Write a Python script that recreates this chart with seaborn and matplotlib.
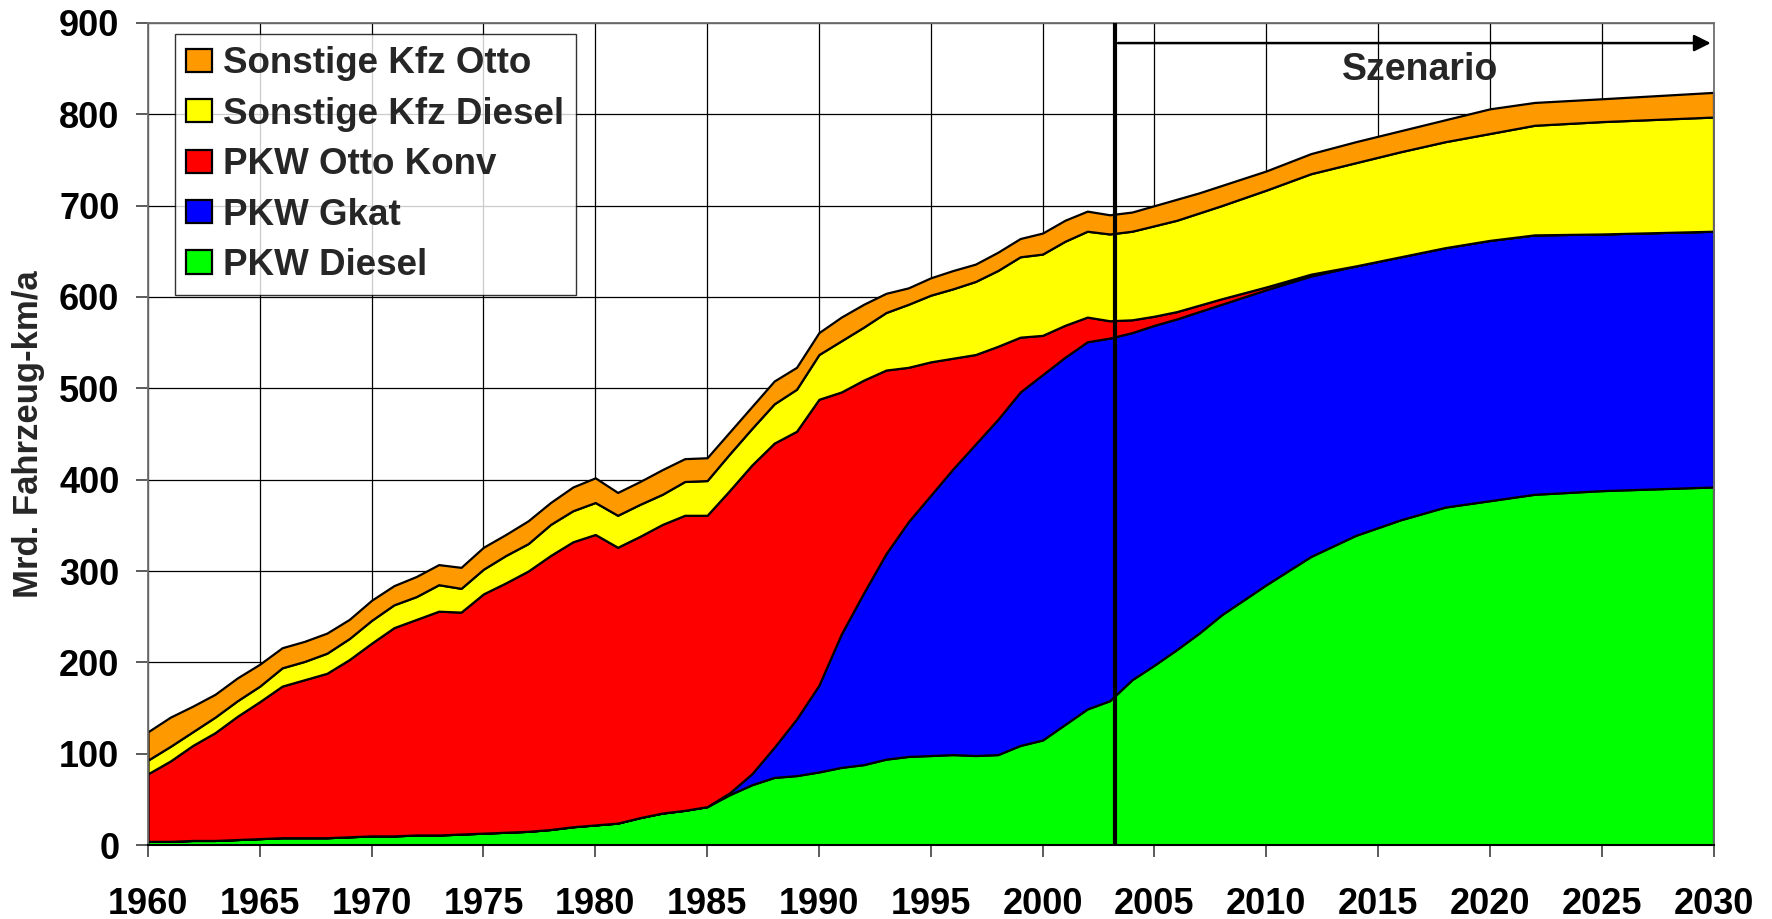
import matplotlib
matplotlib.use('Agg')
import matplotlib.pyplot as plt
import seaborn as sns

years = list(range(1960, 2008)) + [2008, 2010, 2012, 2014, 2016, 2018, 2020, 2022, 2025, 2030]

pkw_diesel = [4, 4, 5, 5, 6, 7, 8, 8, 8, 9,
              10, 10, 11, 11, 12, 13, 14, 15, 17, 20,
              22, 24, 30, 35, 38, 42, 55, 66, 74, 76,
              80, 85, 88, 94, 97, 98, 99, 98, 99, 109,
              115, 132, 149, 158, 181, 197, 214, 232,
              252, 285, 316, 339, 356, 370, 377, 384, 388, 392]

pkw_gkat = [0] * 26 + [2, 12, 33, 62,
            95, 146, 188, 225, 257, 285, 313, 341, 367, 387,
            400, 402, 402, 397, 380, 372, 362, 352,
            340, 323, 307, 295, 288, 284, 285, 284, 281, 280]

pkw_otto_konv = [74, 88, 104, 118, 135, 150, 166, 173, 180, 194,
                 211, 228, 236, 245, 243, 262, 273, 285, 300, 312,
                 318, 302, 308, 316, 323, 319, 331, 338, 333, 315,
                 313, 265, 233, 201, 169, 146, 121, 98, 80, 60,
                 43, 35, 27, 19, 14, 10, 8, 7,
                 6, 3, 2, 0, 0, 0, 0, 0, 0, 0]

sonst_diesel = [15, 16, 15, 17, 17, 17, 20, 20, 22, 23,
                25, 25, 25, 29, 26, 27, 30, 30, 34, 34,
                35, 35, 35, 33, 37, 38, 40, 40, 43, 46,
                49, 56, 58, 63, 69, 73, 76, 80, 83, 88,
                89, 92, 94, 95, 97, 99, 100, 101,
                102, 106, 110, 113, 115, 116, 117, 120, 123, 125]

sonst_otto = [31, 32, 28, 25, 25, 24, 22, 22, 22, 21,
              22, 21, 22, 22, 23, 24, 23, 25, 24, 26,
              27, 25, 25, 27, 25, 25, 24, 24, 25, 24,
              24, 26, 25, 21, 18, 19, 20, 19, 20, 20,
              23, 23, 22, 21, 21, 22, 23, 22,
              22, 21, 22, 23, 23, 24, 27, 25, 25, 27]

labels = ['PKW Diesel', 'PKW Gkat', 'PKW Otto Konv', 'Sonstige Kfz Diesel', 'Sonstige Kfz Otto']
colors = ['#00FF00', '#0000FF', '#FF0000', '#FFFF00', '#FF9900']

sns.set_style('white')
plt.rcParams['font.family'] = ['Liberation Sans', 'DejaVu Sans']
plt.rcParams['font.weight'] = 'bold'

fig = plt.figure(figsize=(17.72, 9.19), dpi=100)
ax = fig.add_axes([0.0835, 0.0805, 0.8835, 0.8945])

ax.grid(True, color='black', linewidth=0.9, zorder=0)
ax.set_axisbelow(True)

ax.stackplot(years, pkw_diesel, pkw_gkat, pkw_otto_konv, sonst_diesel, sonst_otto,
             labels=labels, colors=colors, edgecolor='black', linewidth=1.6, zorder=2)

ax.set_xlim(1960, 2030)
ax.set_ylim(0, 900)
ax.set_xticks(range(1960, 2031, 5))
ax.set_yticks(range(0, 901, 100))
ax.tick_params(axis='both', labelsize=26, length=8.5, width=1.2, direction='out', colors='#404040',
               labelcolor='black')
ax.tick_params(axis='x', bottom=True, pad=22)
ax.tick_params(axis='y', left=True, pad=12)
for lab in ax.get_xticklabels() + ax.get_yticklabels():
    lab.set_fontweight('bold')
ax.set_ylabel('Mrd. Fahrzeug-km/a', fontsize=25, fontweight='bold', labelpad=10)

ax.spines['bottom'].set_color('black')
ax.spines['bottom'].set_linewidth(1.5)
for side in ['left', 'top', 'right']:
    ax.spines[side].set_color('#707070')
    ax.spines[side].set_linewidth(1.3)

# scenario marker
ax.axvline(2003.25, color='black', linewidth=3, zorder=4)
ax.annotate('', xy=(2030, 878), xytext=(2003.25, 878),
            arrowprops=dict(arrowstyle='-|>', color='black', lw=1.8, mutation_scale=25), zorder=5)
ax.text(2016.9, 848, 'Szenario', fontsize=27, fontweight='bold', ha='center', va='center', zorder=5)

handles, labs = ax.get_legend_handles_labels()
leg = ax.legend(handles[::-1], labs[::-1], loc='upper left', bbox_to_anchor=(0.017, 0.986),
                borderaxespad=0, fontsize=26.5, frameon=True, fancybox=False,
                handlelength=0.7, handleheight=0.6, handletextpad=0.3, labelspacing=0.42,
                borderpad=0.32)
leg.get_frame().set_edgecolor('black')
leg.get_frame().set_linewidth(1.0)
for t in leg.get_texts():
    t.set_fontweight('bold')

fig.savefig('out.png', dpi=100)
